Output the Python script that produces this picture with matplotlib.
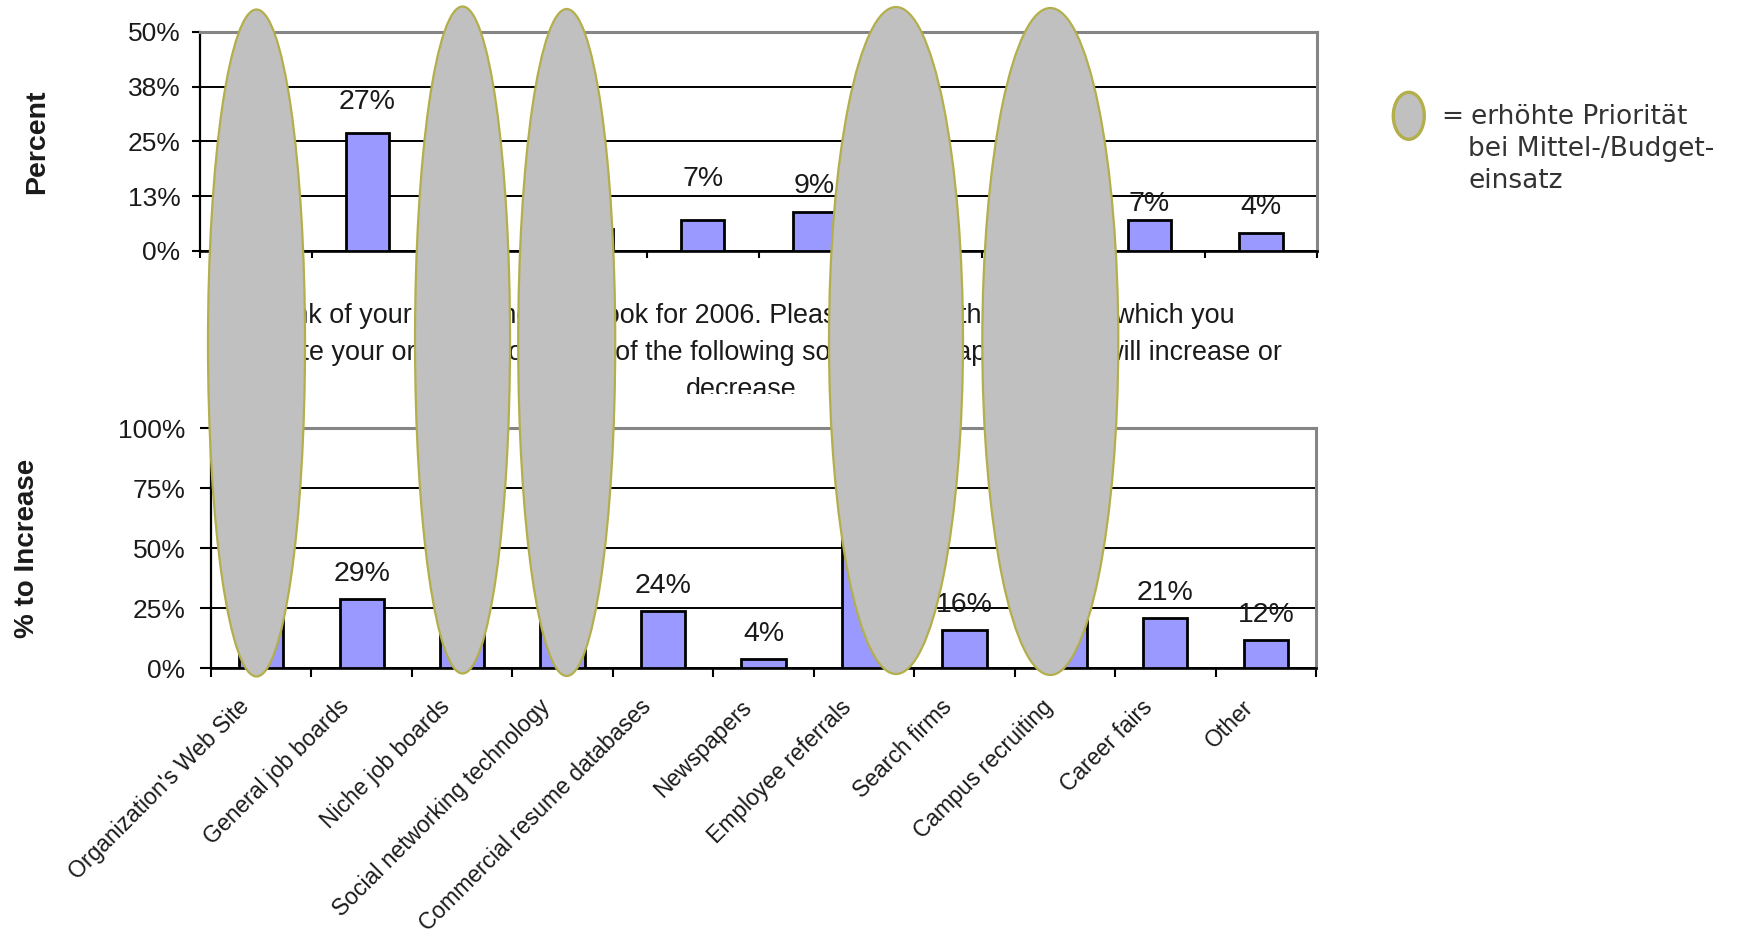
import matplotlib
matplotlib.use("Agg")
import matplotlib.pyplot as plt
import numpy as np
from matplotlib.patches import Ellipse
from matplotlib.transforms import blended_transform_factory, Bbox, TransformedBbox

# ---------------------------------------------------------------- data
top_categories = ["Organization's Web Site", "General job boards", "Niche job boards",
                  "Commercial resume databases", "Newspapers", "Employee referrals",
                  "Search firms", "Campus recruiting", "Career fairs", "Other"]
top_values = [21, 27, 8, 5, 7, 9, 6, 7, 7, 4]

bottom_categories = ["Organization's Web Site", "General job boards", "Niche job boards",
                     "Social networking technology", "Commercial resume databases",
                     "Newspapers", "Employee referrals", "Search firms",
                     "Campus recruiting", "Career fairs", "Other"]
bottom_values = [62, 29, 33, 20, 24, 4, 63, 16, 25, 21, 12]

top_ticks = [0, 12.5, 25, 37.5, 50]
top_tick_labels = ["0%", "13%", "25%", "38%", "50%"]
bottom_ticks = [0, 25, 50, 75, 100]
bottom_tick_labels = ["0%", "25%", "50%", "75%", "100%"]

question_lines = [
    "Think of your recruitment outlook for 2006. Please indicate the extent to which you",
    "anticipate your organization's use of the following sources and approaches will increase or",
    "decrease.",
]
legend_lines = ["erhöhte Priorität", "bei Mittel-/Budget-", "einsatz"]

# ---------------------------------------------------------------- layout / style
W, H = 1738, 941
BAR_COLOR = "#9999FF"
OVAL_FACE = "#C0C0C0"
OVAL_EDGE = "#B3AF4A"
TEXT = "#1a1a1a"
CHART_FONT = "Liberation Sans"

# value-label gaps above the bar tops (pixels)
top_label_gap = [18, 24, 18, 18, 34, 19, 18, 18, 9, 19]
bottom_label_gap = [17.5] * len(bottom_values)

# highlight ovals: (centre in bottom-axis category units, width in category units, centre y px from top)
highlights = [(-0.047, 0.966, 343.0), (2.004, 0.946, 340.0), (3.041, 0.966, 342.5),
              (6.319, 1.334, 340.5), (7.855, 1.354, 341.5)]
OVAL_HEIGHT_PX = 667


def px_box(left, top, right, bottom):
    return [left / W, 1 - bottom / H, (right - left) / W, (bottom - top) / H]


fig = plt.figure(figsize=(W / 100, H / 100), dpi=100)
fig.patch.set_facecolor("white")

ax_top = fig.add_axes(px_box(200, 31.7, 1317, 251))
ax_bot = fig.add_axes(px_box(211, 428.3, 1316, 668.3))


def style_axes(ax, n, ymax, ticks, labels, ytick_len, ypad, xtick_len):
    ax.set_xlim(-0.5, n - 0.5)
    ax.set_ylim(0, ymax)
    ax.set_yticks(ticks)
    ax.set_yticklabels(labels, fontsize=19, family=CHART_FONT, color=TEXT)
    ax.set_xticks(np.arange(n + 1) - 0.5)
    ax.set_xticklabels([])
    ax.tick_params(axis="y", direction="out", length=ytick_len, width=1.5,
                   pad=ypad, color="black")
    ax.tick_params(axis="x", direction="out", length=xtick_len, width=1.5,
                   color="black")
    ax.yaxis.grid(True, color="black", linewidth=1.4, zorder=0)
    ax.set_axisbelow(True)
    ax.spines["left"].set_color("black")
    ax.spines["left"].set_linewidth(1.6)
    ax.spines["bottom"].set_color("black")
    ax.spines["bottom"].set_linewidth(1.9)
    for s in ("top", "right"):
        ax.spines[s].set_color("#858585")
        ax.spines[s].set_linewidth(2.2)
    ax.set_facecolor("white")


def draw_bars(ax, values, width, gaps):
    x = np.arange(len(values))
    ax.bar(x, values, width=width, color=BAR_COLOR, edgecolor="black",
           linewidth=2.0, zorder=3)
    for i, v in enumerate(values):
        ax.annotate(f"{v}%", xy=(i, v), xytext=(0, gaps[i]),
                    textcoords="offset pixels", ha="center", va="baseline",
                    fontsize=20.5, family=CHART_FONT, color=TEXT, zorder=4)


style_axes(ax_top, len(top_values), 50, top_ticks, top_tick_labels, 5.8, 8.2, 5.0)
draw_bars(ax_top, top_values, 0.39, top_label_gap)

style_axes(ax_bot, len(bottom_values), 100, bottom_ticks, bottom_tick_labels, 7.9, 10.4, 6.5)
draw_bars(ax_bot, bottom_values, 0.44, bottom_label_gap)

# rotated category names under the lower chart
for i, name in enumerate(bottom_categories):
    ax_bot.annotate(name, xy=(i, 0), xytext=(-24, -27), textcoords="offset pixels",
                    rotation=45, ha="right", va="top", rotation_mode="anchor",
                    fontsize=16.5, family=CHART_FONT, color=TEXT)

# axis titles
fig.text(37 / W, 1 - 142 / H, "Percent", rotation=90, ha="center", va="center",
         fontsize=20.5, fontweight="bold", family=CHART_FONT, color=TEXT)
fig.text(27 / W, 1 - 548 / H, "% to Increase", rotation=90, ha="center", va="center",
         fontsize=20, fontweight="bold", family=CHART_FONT, color=TEXT)

# survey question between the two charts (last line cut off by the chart frame)
clip = TransformedBbox(Bbox.from_extents(0, 1 - 394 / H, 1, 1), fig.transFigure)
for line, base in zip(question_lines, [323, 360, 397]):
    t = fig.text(745 / W, 1 - base / H, line, ha="center", va="baseline",
                 fontsize=19.4, family=CHART_FONT, color=TEXT, zorder=3)
    t.set_clip_box(clip)
    t.set_clip_on(True)

# highlight ovals spanning both charts
oval_tr = blended_transform_factory(ax_bot.transData, fig.transFigure)
for cx, w, cy in highlights:
    fig.add_artist(Ellipse((cx, 1 - cy / H), w, OVAL_HEIGHT_PX / H, transform=oval_tr,
                           facecolor=OVAL_FACE, edgecolor=OVAL_EDGE, linewidth=1.6,
                           zorder=10))

# legend for the ovals
fig.add_artist(Ellipse((1408.8 / W, 1 - 115.8 / H), 31 / W, 47 / H,
                       transform=fig.transFigure, facecolor=OVAL_FACE,
                       edgecolor=OVAL_EDGE, linewidth=2.4, zorder=10))
LEG_KW = dict(fontsize=19, family="DejaVu Sans", color="#333333", va="baseline")
fig.text(1441 / W, 1 - 124 / H, "=", **LEG_KW)
fig.text(1471 / W, 1 - 124 / H, legend_lines[0], **LEG_KW)
fig.text(1468 / W, 1 - 156.5 / H, legend_lines[1], **LEG_KW)
fig.text(1468 / W, 1 - 188 / H, legend_lines[2], **LEG_KW)

fig.savefig("out.png", dpi=100, facecolor="white")
